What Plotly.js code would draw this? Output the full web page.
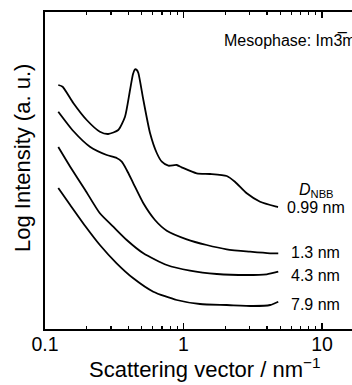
<!DOCTYPE html>
<html>
<head>
<meta charset="utf-8">
<script src="https://cdn.plot.ly/plotly-3.0.1.min.js"></script>
<style>
html,body{margin:0;padding:0;overflow:hidden;background:#fff;width:352px;height:385px;}
#chart{width:360px;height:385px;}
</style>
</head>
<body>
<div id="chart"></div>
<script>
// Scattering vector q (nm^-1) and log intensity (arbitrary, offset) for each D_NBB
const seriesNames = ["0.99 nm", "1.3 nm", "4.3 nm", "7.9 nm"];

const q099 = [0.1247, 0.134, 0.160, 0.200, 0.249, 0.286, 0.338, 0.378, 0.411, 0.432, 0.447, 0.460, 0.472, 0.513, 0.573, 0.641, 0.697, 0.777, 0.893, 0.970, 1.245, 1.553, 2.05, 2.35, 2.86, 3.57, 4.71, 4.81];
const i099 = [244, 242.3, 226, 209, 197.3, 195, 199, 212.3, 239, 255, 259.7, 259, 256, 229, 196, 176, 167.3, 163.3, 164, 161.7, 155.7, 155, 153, 147.3, 135.7, 127.3, 122.3, 122];

const q13 = [0.1247, 0.160, 0.211, 0.279, 0.329, 0.358, 0.389, 0.434, 0.513, 0.622, 0.757, 1.055, 1.47, 2.05, 3.02, 4.22, 4.83];
const i13 = [217.3, 198, 182.3, 174, 171, 167.3, 159, 145.7, 125.7, 109, 98.3, 89.7, 84, 79.7, 77.3, 75.7, 75.7];

const q43 = [0.1247, 0.152, 0.195, 0.249, 0.311, 0.389, 0.513, 0.757, 1.114, 1.74, 2.86, 3.99, 4.83];
const i43 = [182, 162.3, 139, 115.7, 102.3, 89, 75.7, 64, 58.3, 55, 54, 54.7, 57.3];

const q79 = [0.1247, 0.152, 0.195, 0.249, 0.329, 0.434, 0.605, 0.893, 1.315, 2.05, 3.19, 4.22, 4.83];
const i79 = [141, 124, 103, 84, 65.7, 50.7, 37.3, 29, 25, 24, 23, 24, 27.3];

const xTickVals = [0.1, 1, 10];
const xTickText = ["0.1", "1", "10"];

const xs = [q099, q13, q43, q79];
const ys = [i099, i13, i43, i79];

const traces = xs.map((x, k) => ({
  x: x, y: ys[k], name: seriesNames[k], type: "scatter", mode: "lines",
  line: {color: "#000", width: 1.8, shape: "spline", smoothing: 0.6},
  hoverinfo: "skip", showlegend: false
}));

// pixel helpers for text placement (plot area: x 45..360, y 12..329)
const L = 45, R = 360, T = 12, B = 329;
const px = v => (v - L) / (R - L);
const py = v => (B - v) / (B - T);

const font = "Liberation Sans, Arial, sans-serif";

const annotations = [
  {text: "Mesophase: Im3\u0305m", x: px(222), y: py(40), xanchor: "left", yanchor: "middle", font: {size: 16}},
  {text: "<i>D</i><sub>NBB</sub>", x: px(297), y: py(190), xanchor: "left", yanchor: "middle", font: {size: 16}},
  {text: seriesNames[0], x: px(285), y: py(208), xanchor: "left", yanchor: "middle", font: {size: 16}},
  {text: seriesNames[1], x: px(289), y: py(252), xanchor: "left", yanchor: "middle", font: {size: 16}},
  {text: seriesNames[2], x: px(289), y: py(275), xanchor: "left", yanchor: "middle", font: {size: 16}},
  {text: seriesNames[3], x: px(289), y: py(304), xanchor: "left", yanchor: "middle", font: {size: 16}},
  {text: "Log Intensity (a. u.)", x: px(22), y: py(158), textangle: -90, xanchor: "center", yanchor: "middle", font: {size: 22}},
  {text: "Scattering vector / nm<sup>\u22121</sup>", x: px(205), y: py(368), xanchor: "center", yanchor: "middle", font: {size: 22}}
].map(a => Object.assign({xref: "paper", yref: "paper", showarrow: false}, a));

const layout = {
  width: 360, height: 385,
  margin: {l: L, r: 0, t: T, b: 385 - B},
  paper_bgcolor: "#fff", plot_bgcolor: "#fff",
  font: {family: font, color: "#000", size: 16},
  showlegend: false,
  xaxis: {
    type: "log", range: [-1, 1.274],
    tickvals: xTickVals, ticktext: xTickText,
    ticks: "inside", ticklen: 6, tickwidth: 1.5, tickcolor: "#000",
    minor: {ticks: "inside", ticklen: 3, tickwidth: 1.2, tickcolor: "#000", dtick: "D1", showgrid: false},
    showline: true, linecolor: "#000", linewidth: 2, mirror: "ticks",
    showgrid: false, zeroline: false,
    ticklabelstandoff: -3,
    tickfont: {size: 19.5}
  },
  yaxis: {
    range: [0, 317], showticklabels: false, ticks: "",
    showline: true, linecolor: "#000", linewidth: 2,
    showgrid: false, zeroline: false
  },
  annotations: annotations
};

Plotly.newPlot("chart", traces, layout, {staticPlot: true, displayModeBar: false});
</script>
</body>
</html>
